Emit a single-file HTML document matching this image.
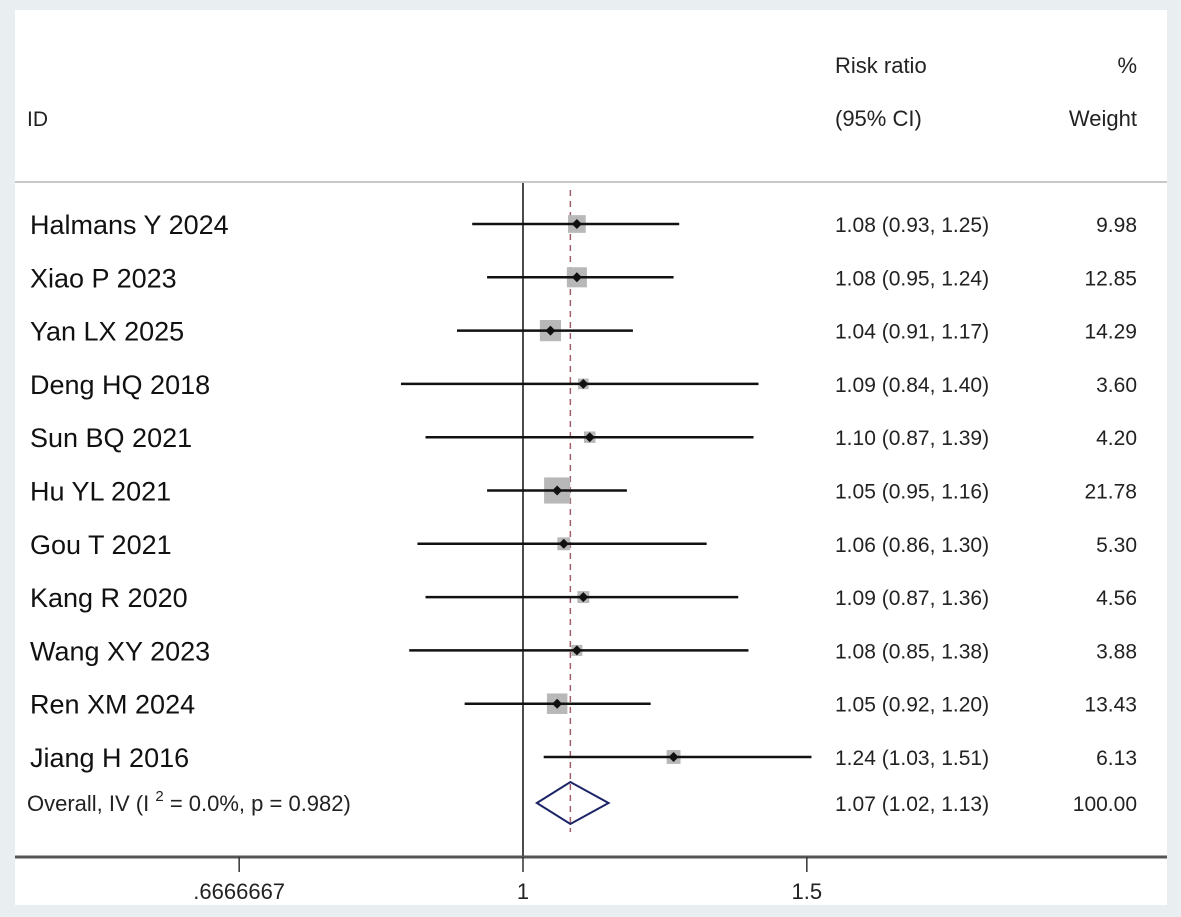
<!DOCTYPE html>
<html><head><meta charset="utf-8"><style>
html,body{margin:0;padding:0;background:#e9eef1;}
svg{display:block;font-family:"Liberation Sans",sans-serif;}
</style></head><body>
<svg width="1181" height="917" viewBox="0 0 1181 917">
<rect x="15" y="10" width="1152" height="895" fill="#fff"/>
<line x1="15" y1="182" x2="1167" y2="182" stroke="#c8c8c8" stroke-width="2"/>
<text x="27" y="126" font-size="21" fill="#222">ID</text>
<text x="835" y="73" font-size="22" fill="#222">Risk ratio</text>
<text x="835" y="126" font-size="22" fill="#222">(95% CI)</text>
<text x="1137" y="73" font-size="22" fill="#222" text-anchor="end">%</text>
<text x="1137" y="126" font-size="22" fill="#222" text-anchor="end">Weight</text>
<g id="rows"></g>
<line x1="15" y1="857" x2="1167" y2="857" stroke="#555" stroke-width="3"/>
<g id="ticks"></g>
</svg>
<script>
const studies=["Halmans Y 2024","Xiao P 2023","Yan LX 2025","Deng HQ 2018","Sun BQ 2021","Hu YL 2021","Gou T 2021","Kang R 2020","Wang XY 2023","Ren XM 2024","Jiang H 2016"];
const rr=[1.08,1.08,1.04,1.09,1.10,1.05,1.06,1.09,1.08,1.05,1.24];
const lo=[0.93,0.95,0.91,0.84,0.87,0.95,0.86,0.87,0.85,0.92,1.03];
const hi=[1.25,1.24,1.17,1.40,1.39,1.16,1.30,1.36,1.38,1.20,1.51];
const weights=[9.98,12.85,14.29,3.60,4.20,21.78,5.30,4.56,3.88,13.43,6.13];
const overall=[1.07,1.02,1.13];
const tickVals=[0.6666667,1,1.5];
const tickLabels=[".6666667","1","1.5"];
const NS="http://www.w3.org/2000/svg";
const x=v=>523+700*Math.log(v);
const rowY=i=>224+i*53.3;
const g=document.getElementById('rows');
function mk(t,a,p){const e=document.createElementNS(NS,t);for(const k in a)e.setAttribute(k,a[k]);(p||g).appendChild(e);return e;}
let e;
e=mk('line',{x1:x(1),y1:183,x2:x(1),y2:857,stroke:'#111','stroke-width':1.5});


e=mk('line',{x1:x(overall[0]),y1:190,x2:x(overall[0]),y2:832,stroke:'#a0606a','stroke-width':1.5,'stroke-dasharray':'6,5'});


studies.forEach((s,i)=>{
const y=rowY(i);
e=mk('text',{x:30,y:y+10,'font-size':27,fill:'#111'});e.textContent=s;


const side=5.6*Math.sqrt(weights[i]);
e=mk('rect',{x:x(rr[i])-side/2,y:y-side/2,width:side,height:side,fill:'#b8b8b8'});


e=mk('line',{x1:x(lo[i]),y1:y,x2:x(hi[i]),y2:y,stroke:'#111','stroke-width':2.5});


const cx=x(rr[i]);
e=mk('polygon',{points:`${cx-5},${y} ${cx},${y-5} ${cx+5},${y} ${cx},${y+5}`,fill:'#111'});


e=mk('text',{x:835,y:y+8,'font-size':21,fill:'#222'});e.textContent=`${rr[i].toFixed(2)} (${lo[i].toFixed(2)}, ${hi[i].toFixed(2)})`;


e=mk('text',{x:1137,y:y+8,'font-size':21,fill:'#222','text-anchor':'end'});e.textContent=weights[i].toFixed(2);


});
const oy=803;
e=mk('text',{x:27,y:oy+8,'font-size':22,fill:'#222'});e.innerHTML='Overall, IV (I <tspan dy="-10" font-size="15">2</tspan><tspan dy="10"> = 0.0%, p = 0.982)</tspan>';


e=mk('polygon',{points:`${x(overall[1])},${oy} ${x(overall[0])},${oy-21} ${x(overall[2])},${oy} ${x(overall[0])},${oy+21}`,fill:'none',stroke:'#1a2466','stroke-width':2});


e=mk('text',{x:835,y:oy+8,'font-size':21,fill:'#222'});e.textContent=`${overall[0].toFixed(2)} (${overall[1].toFixed(2)}, ${overall[2].toFixed(2)})`;


e=mk('text',{x:1137,y:oy+8,'font-size':21,fill:'#222','text-anchor':'end'});e.textContent='100.00';


const tg=document.getElementById('ticks');
tickVals.forEach((v,i)=>{
e=mk('line',{x1:x(v),y1:857,x2:x(v),y2:872,stroke:'#333','stroke-width':1.5},tg);


e=mk('text',{x:x(v),y:899,'font-size':22,fill:'#222','text-anchor':'middle'},tg);e.textContent=tickLabels[i];


});
</script>
</body></html>
